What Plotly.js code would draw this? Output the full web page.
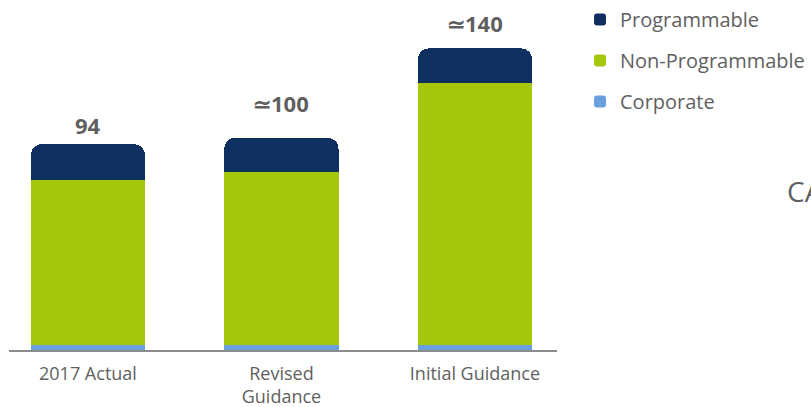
<!DOCTYPE html>
<html>
<head>
<meta charset="utf-8">
<script src="https://cdn.plot.ly/plotly-3.0.1.min.js"></script>
<style>html,body{margin:0;padding:0;background:#fff;overflow:hidden}#chart{width:811px;height:407px}</style>
</head>
<body>
<div id="chart"></div>
<script>
const categories = ["2017 Actual", "Revised<br>Guidance", "Initial Guidance"];
const corporate = [2.5, 2.5, 2.5];
const nonProgrammable = [76.5, 80, 121.5];
const programmable = [16.5, 16, 16];
const totalLabels = ["94", "\u2243100", "\u2243140"];
const totals = [95.5, 98.5, 140];

const labelShift = [2, 18, 8];
const gray = "#5f5f5f";

const traces = [
  {type: "bar", name: "Corporate", x: categories, y: corporate, legendgroup: "c", legendrank: 3,
   marker: {color: "#6a9fdd"}, width: 0.59, hoverinfo: "skip"},
  {type: "bar", name: "Non-Programmable", x: categories, y: nonProgrammable, legendgroup: "n", legendrank: 2,
   marker: {color: "#a5c80c"}, width: 0.59, hoverinfo: "skip"},
  {type: "bar", name: "Programmable", x: categories, y: programmable, legendgroup: "p", legendrank: 1,
   marker: {color: "#0e2f5f"}, width: 0.59, hoverinfo: "skip"}
];

const annotations = categories.map((c, i) => ({
  x: c, y: totals[i], xref: "x", yref: "y", text: "<b>" + totalLabels[i] + "</b>",
  showarrow: false, yanchor: "bottom", yshift: labelShift[i],
  font: {family: "Open Sans", size: 22, color: gray}
}));
annotations.push({
  x: 1.416, y: 0.457, xref: "paper", yref: "paper", text: "CAPEX",
  showarrow: false, xanchor: "left", yanchor: "middle",
  font: {family: "Open Sans", size: 28, color: gray}
});

const layout = {
  width: 811, height: 407,
  margin: {l: 9, r: 254, t: 0, b: 57},
  paper_bgcolor: "#fff", plot_bgcolor: "#fff",
  barmode: "stack", barcornerradius: 11,
  showlegend: true,
  legend: {x: 1.042, y: 1.004, xanchor: "left", yanchor: "top", traceorder: "grouped",
           tracegroupgap: 12, font: {family: "Open Sans", size: 20, color: gray}, bgcolor: "rgba(0,0,0,0)"},
  xaxis: {type: "category", range: [-0.408, 2.424], showline: true, linecolor: "#8c8c8c", linewidth: 2,
          ticks: "", showgrid: false, zeroline: false, ticklabelstandoff: 6,
          tickfont: {family: "Open Sans", size: 18, color: gray}},
  yaxis: {range: [0, 162], visible: false, showgrid: false, zeroline: false},
  annotations: annotations
};

Plotly.newPlot("chart", traces, layout, {displayModeBar: false, staticPlot: true});
</script>
</body>
</html>
